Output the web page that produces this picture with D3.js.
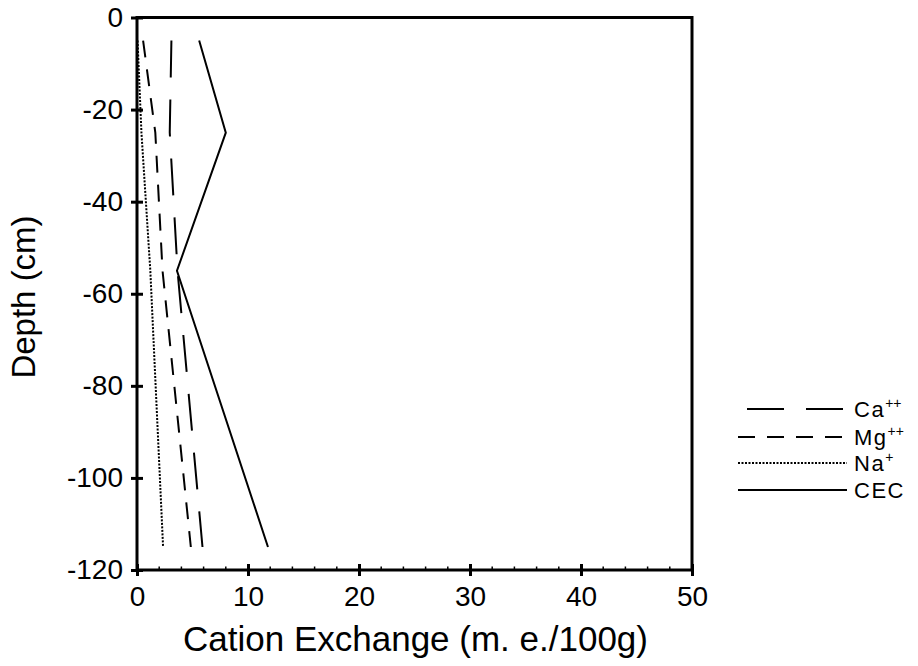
<!DOCTYPE html>
<html>
<head>
<meta charset="utf-8">
<script src="https://cdn.jsdelivr.net/npm/d3@7"></script>
<style>
  body { margin: 0; background: #fff; }
  svg { font-family: "Liberation Sans", Arial, Helvetica, sans-serif; }
</style>
</head>
<body>
<svg class="chart" width="918" height="666"></svg>
<script>
// Depth of each sample (cm)
const depths = [-5, -25, -55, -115];

// Cation values (m. e./100g) at each depth
const caValues = [3.1, 2.95, 3.65, 5.9];
const mgValues = [0.55, 1.65, 2.3, 4.85];
const naValues = [0.05, 0.4, 1.2, 2.35];
const cecValues = [5.6, 8.0, 3.6, 11.8];

const xTicks = [0, 10, 20, 30, 40, 50];
const yTicks = [0, -20, -40, -60, -80, -100, -120];

const series = [
  { name: "Ca", sup: "++", values: caValues, dash: "37,22", width: 2 },
  { name: "Mg", sup: "++", values: mgValues, dash: "17,12", width: 2 },
  { name: "Na", sup: "+", values: naValues, dash: "2,1.5", width: 2 },
  { name: "CEC", sup: "", values: cecValues, dash: null, width: 2 }
];

// Set the dimensions and margins of the graph
const margin = { top: 17.5, left: 137 },
  width = 555,
  height = 552.5;

const svg = d3.select(".chart")
  .append("g")
  .attr("transform", "translate(" + margin.left + "," + margin.top + ")");

const x = d3.scaleLinear().domain([0, 50]).range([0, width]);
const y = d3.scaleLinear().domain([-120, 0]).range([height, 0]);

// plain hyphen for negative numbers, like the original
const fmt = function (d) { return String(d); };

// Minor ticks on the x axis (inside, every 2 units)
svg.append("g")
  .selectAll("line")
  .data(d3.range(2, 50, 2).filter(function (d) { return d % 10 !== 0; }))
  .enter()
  .append("line")
  .attr("x1", function (d) { return x(d); })
  .attr("x2", function (d) { return x(d); })
  .attr("y1", height)
  .attr("y2", height - 3.5)
  .attr("stroke", "#000")
  .attr("stroke-width", 1.5);

// x axis, major ticks cross the line
const xAxis = svg.append("g")
  .attr("transform", "translate(0," + height + ")")
  .call(d3.axisBottom(x).tickValues(xTicks).tickFormat(fmt).tickSize(0).tickPadding(16));
xAxis.select(".domain").remove();
xAxis.selectAll(".tick").append("line")
  .attr("y1", -6).attr("y2", 6)
  .attr("stroke", "#000").attr("stroke-width", 3);
xAxis.selectAll("text")
  .attr("font-size", 28)
  .attr("font-family", "Liberation Sans, Arial, sans-serif")
  .attr("fill", "#000");

// y axis
const yAxis = svg.append("g")
  .call(d3.axisLeft(y).tickValues(yTicks).tickFormat(fmt).tickSize(0).tickPadding(14));
yAxis.select(".domain").remove();
yAxis.selectAll(".tick").append("line")
  .attr("x1", -6).attr("x2", 6)
  .attr("stroke", "#000").attr("stroke-width", 3);
yAxis.selectAll("text")
  .attr("font-size", 28)
  .attr("font-family", "Liberation Sans, Arial, sans-serif")
  .attr("fill", "#000");

// Frame
svg.append("rect")
  .attr("x", 0).attr("y", 0)
  .attr("width", width).attr("height", height)
  .attr("fill", "none")
  .attr("stroke", "#000")
  .attr("stroke-width", 3);

// Data lines
const line = d3.line()
  .x(function (d) { return x(d.v); })
  .y(function (d) { return y(d.depth); });

series.forEach(function (s) {
  const pts = s.values.map(function (v, i) { return { v: v, depth: depths[i] }; });
  svg.append("path")
    .datum(pts)
    .attr("d", line)
    .attr("fill", "none")
    .attr("stroke", "#000")
    .attr("stroke-width", s.width)
    .attr("stroke-dasharray", s.dash);
});

// Axis labels
svg.append("text")
  .attr("x", width / 2 + 1)
  .attr("y", height + 81)
  .attr("text-anchor", "middle")
  .attr("font-size", 35)
  .text("Cation Exchange (m. e./100g)");

svg.append("text")
  .attr("transform", "translate(" + (35 - margin.left) + "," + (297 - margin.top) + ") rotate(-90)")
  .attr("text-anchor", "middle")
  .attr("font-size", 33)
  .text("Depth (cm)");

// Legend
const legendY = [409, 437, 463, 490];
const legend = d3.select(".chart").append("g");
series.forEach(function (s, i) {
  const start = s.name === "Ca" ? 747 : 738;
  legend.append("line")
    .attr("x1", start).attr("x2", 847)
    .attr("y1", legendY[i]).attr("y2", legendY[i])
    .attr("stroke", "#000")
    .attr("stroke-width", s.width)
    .attr("stroke-dasharray", s.dash);
  const t = legend.append("text")
    .attr("x", 854)
    .attr("y", legendY[i] + 8)
    .attr("font-size", 22)
    .attr("letter-spacing", 1.5)
    .text(s.name);
  if (s.sup) {
    t.append("tspan")
      .attr("font-size", 14)
      .attr("letter-spacing", 0)
      .attr("dy", -9)
      .text(s.sup);
  }
});
</script>
</body>
</html>
